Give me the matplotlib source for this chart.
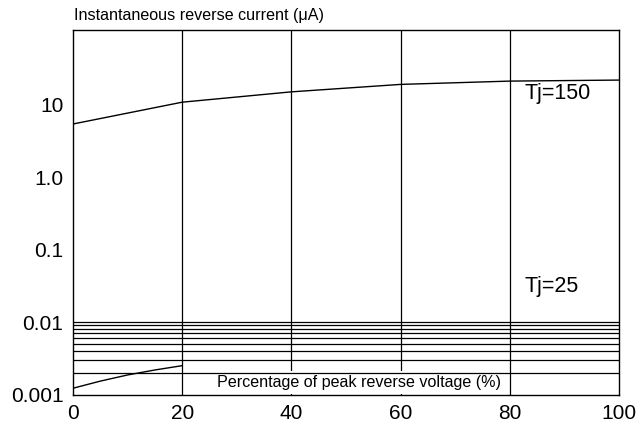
import matplotlib
matplotlib.use("Agg")
import matplotlib.pyplot as plt

plt.rcParams['font.family'] = ['Liberation Sans', 'DejaVu Sans']

# Data
x150 = [0, 20, 40, 60, 80, 100]
y150 = [5.4, 10.8, 15.0, 19.0, 21.1, 21.8]
x25 = [0, 5, 10, 15, 20]
y25 = [0.00122, 0.00153, 0.00186, 0.00218, 0.0025]
xticks = [0, 20, 40, 60, 80, 100]
xtick_labels = ["0", "20", "40", "60", "80", "100"]
yticks = [0.001, 0.01, 0.1, 1.0, 10]
ytick_labels = ["0.001", "0.01", "0.1", "1.0", "10"]
vgrid = [20, 40, 60, 80]
hgrid = [0.002, 0.003, 0.004, 0.005, 0.006, 0.007, 0.008, 0.009, 0.01]

fig = plt.figure(figsize=(6.43, 4.26), dpi=100)
ax = fig.add_axes([73/643, 1-394.5/426, (619-73)/643, (394.5-30)/426])
ax.set_yscale('log')
ax.set_xlim(0, 100)
ax.set_ylim(0.001, 107)

for v in vgrid:
    ax.axvline(v, color='black', lw=0.9, zorder=1)
for h in hgrid:
    ax.axhline(h, color='black', lw=0.9, zorder=3)

ax.plot(x150, y150, color='black', lw=1.0, zorder=4)
ax.plot(x25, y25, color='black', lw=1.0, zorder=4)

ax.set_xticks(xticks)
ax.set_xticklabels(xtick_labels)
ax.set_yticks(yticks)
ax.set_yticklabels(ytick_labels)
ax.minorticks_off()
ax.tick_params(axis='both', length=0, labelsize=15, colors='black')
ax.tick_params(axis='x', pad=7)
ax.tick_params(axis='y', pad=7)
for sp in ax.spines.values():
    sp.set_linewidth(1.0)
    sp.set_color('black')

ax.text(52.4, 0.00147, "Percentage of peak reverse voltage (%)", fontsize=11.6,
        ha='center', va='center', zorder=2,
        bbox=dict(facecolor='white', edgecolor='none', pad=3))

ax.text(82.7, 14.4, "Tj=150", fontsize=15.5, ha='left', va='center', zorder=5)
ax.text(82.7, 0.031, "Tj=25", fontsize=15.5, ha='left', va='center', zorder=5)

fig.text(74/643, 1-20/426, "Instantaneous reverse current (μA)", fontsize=11.6,
         ha='left', va='baseline')

fig.savefig("out.png", dpi=100)
